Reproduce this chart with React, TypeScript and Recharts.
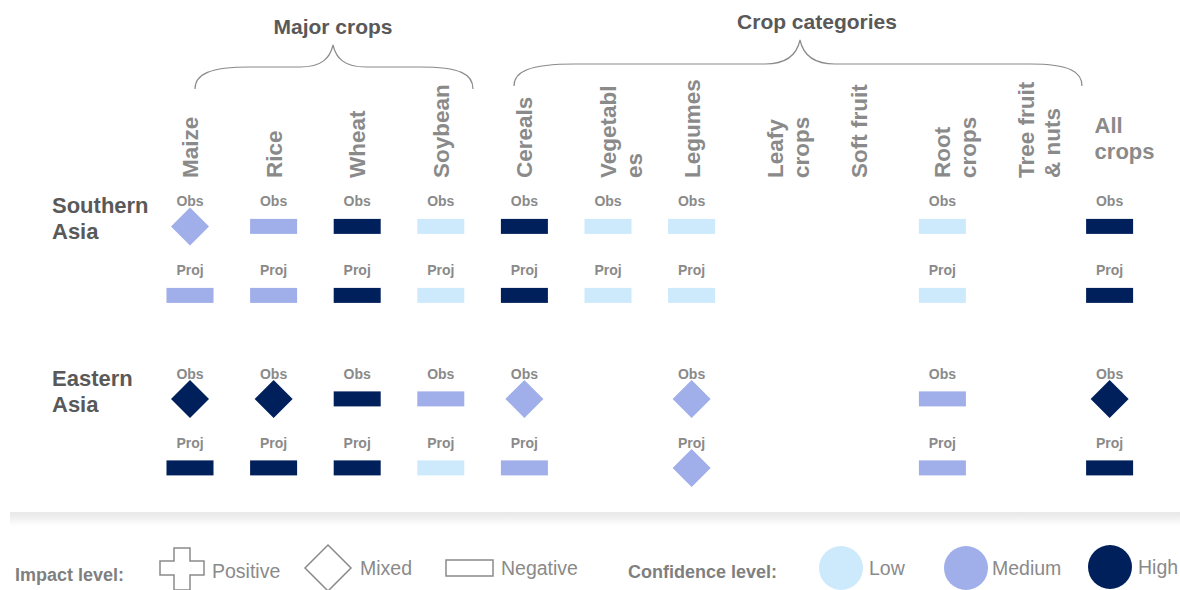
import React from 'react';
import { ScatterChart, Scatter, XAxis, YAxis } from 'recharts';

// columns (crop / crop category), header text split into lines
const crops = ['Maize', 'Rice', 'Wheat', 'Soybean', 'Cereals', 'Vegetables', 'Legumes', 'Leafy crops', 'Soft fruit', 'Root crops', 'Tree fruit & nuts', 'All crops'];
const cropHeaders = [['Maize'], ['Rice'], ['Wheat'], ['Soybean'], ['Cereals'], ['Vegetabl', 'es'], ['Legumes'], ['Leafy', 'crops'], ['Soft fruit'], ['Root', 'crops'], ['Tree  fruit', '& nuts'], ['All', 'crops']];

const regions = ['Southern Asia', 'Eastern Asia'];
const periods = ['Obs', 'Proj'];

// impact: N = negative, M = mixed, P = positive, '' = no assessment
// confidence: L = low, M = medium, H = high
const southObsImpact = ['M', 'N', 'N', 'N', 'N', 'N', 'N', '', '', 'N', '', 'N'];
const southObsConf = ['M', 'M', 'H', 'L', 'H', 'L', 'L', '', '', 'L', '', 'H'];
const southProjImpact = ['N', 'N', 'N', 'N', 'N', 'N', 'N', '', '', 'N', '', 'N'];
const southProjConf = ['M', 'M', 'H', 'L', 'H', 'L', 'L', '', '', 'L', '', 'H'];
const eastObsImpact = ['M', 'M', 'N', 'N', 'M', '', 'M', '', '', 'N', '', 'M'];
const eastObsConf = ['H', 'H', 'H', 'M', 'M', '', 'M', '', '', 'M', '', 'H'];
const eastProjImpact = ['N', 'N', 'N', 'N', 'N', '', 'M', '', '', 'N', '', 'N'];
const eastProjConf = ['H', 'H', 'H', 'L', 'M', '', 'M', '', '', 'M', '', 'H'];

const impactRows = [[southObsImpact, southProjImpact], [eastObsImpact, eastProjImpact]];
const confRows = [[southObsConf, southProjConf], [eastObsConf, eastProjConf]];

const confColors: Record<string, string> = { L: '#cdeafd', M: '#a0aeea', H: '#00205b' };

const FONT = '"Liberation Sans", Arial, sans-serif';
const GREY = '#8a8a8a';
const DARK = '#595959';

type Cell = { col: number; row: number; period: string; impact: string; conf: string };

const cells: Cell[] = [];
regions.forEach((_, r) => {
  periods.forEach((p, pi) => {
    crops.forEach((_, c) => {
      const impact = impactRows[r][pi][c];
      if (!impact) return;
      cells.push({ col: c, row: r * 2.5 + pi, period: p, impact, conf: confRows[r][pi][c] });
    });
  });
});

const Mark = (props: any) => {
  const { cx, cy, payload } = props;
  const fill = confColors[payload.conf];
  let shape;
  if (payload.impact === 'M') {
    const h = 19;
    shape = <polygon points={`${cx},${cy - h} ${cx + h},${cy} ${cx},${cy + h} ${cx - h},${cy}`} fill={fill} />;
  } else {
    shape = <rect x={cx - 23.5} y={cy - 7.5} width={47} height={15} fill={fill} />;
  }
  return (
    <g>
      <text x={cx} y={cy - 20} textAnchor="middle" fontFamily={FONT} fontSize={14} fontWeight="bold" fill={GREY}>
        {payload.period}
      </text>
      {shape}
    </g>
  );
};

const HeaderTick = (props: any) => {
  const { x, y, payload } = props;
  const lines = cropHeaders[payload.value] || [];
  if (payload.value === crops.length - 1) {
    return (
      <g>
        {lines.map((l, i) => (
          <text key={i} x={x - 15} y={y - 52 + i * 26} fontFamily={FONT} fontSize={22} fontWeight="bold" fill={GREY}>
            {l}
          </text>
        ))}
      </g>
    );
  }
  return (
    <g>
      {lines.map((l, i) => {
        const tx = x + i * 26;
        const ty = y - 7;
        return (
          <text key={i} x={tx} y={ty} dy="0.36em" transform={`rotate(-90, ${tx}, ${ty})`} fontFamily={FONT} fontSize={22.5} fontWeight="bold" fill={GREY}>
            {l}
          </text>
        );
      })}
    </g>
  );
};

const RegionTick = (props: any) => {
  const { y, payload } = props;
  const words = regions[Math.round(payload.value / 2.5)].split(' ');
  return (
    <g>
      {words.map((w, i) => (
        <text key={i} x={52} y={y - 13 + i * 26} fontFamily={FONT} fontSize={22} fontWeight="bold" fill={DARK}>
          {w}
        </text>
      ))}
    </g>
  );
};

const Overlay = () => (
  <svg width={1180} height={590} style={{ position: 'absolute', left: 0, top: 0, pointerEvents: 'none' }}>
    <defs>
      <linearGradient id="shadow" x1="0" y1="0" x2="0" y2="1">
        <stop offset="0" stopColor="#e9e9e9" />
        <stop offset="1" stopColor="#ffffff" />
      </linearGradient>
    </defs>
    <text x={333} y={34} textAnchor="middle" fontFamily={FONT} fontSize={21} fontWeight="bold" fill={DARK}>Major crops</text>
    <text x={817} y={29} textAnchor="middle" fontFamily={FONT} fontSize={21} fontWeight="bold" fill={DARK}>Crop categories</text>
    <path d="M195,89 C195,74 210,67 250,67 L300,67 C322,67 330,58 333,45 C336,58 344,67 366,67 L420,67 C460,67 473,74 473,89" fill="none" stroke="#8a8a8a" strokeWidth={1.2} />
    <path d="M514,86 C514,72 528,64 575,64 L765,64 C788,64 797,54 800,40 C803,54 812,64 835,64 L1030,64 C1070,64 1082,72 1082,86" fill="none" stroke="#8a8a8a" strokeWidth={1.2} />
    <line x1={10} y1={513} x2={1180} y2={513} stroke="#d6d6d6" strokeWidth={1.2} />
    <rect x={10} y={514} width={1170} height={12} fill="url(#shadow)" />
    <text x={15} y={581} fontFamily={FONT} fontSize={18} fontWeight="bold" fill="#7f7f7f">Impact level:</text>
    <path d="M174,548 L190,548 L190,561 L204,561 L204,575 L190,575 L190,590 L174,590 L174,575 L160,575 L160,561 L174,561 Z" fill="none" stroke="#8a8a8a" strokeWidth={1.5} />
    <text x={212} y={578} fontFamily={FONT} fontSize={19.5} fill="#8a8a8a">Positive</text>
    <polygon points="328,545 351,568 328,591 305,568" fill="none" stroke="#8a8a8a" strokeWidth={1.5} />
    <text x={360} y={575} fontFamily={FONT} fontSize={19.5} fill="#8a8a8a">Mixed</text>
    <rect x={446} y={560} width={47} height={16} fill="none" stroke="#8a8a8a" strokeWidth={1.5} />
    <text x={501} y={575} fontFamily={FONT} fontSize={19.5} fill="#8a8a8a">Negative</text>
    <text x={628} y={578} fontFamily={FONT} fontSize={18} fontWeight="bold" fill="#7f7f7f">Confidence level:</text>
    <ellipse cx={841} cy={568} rx={22} ry={22} fill={confColors.L} />
    <text x={869} y={575} fontFamily={FONT} fontSize={19.5} fill="#8a8a8a">Low</text>
    <ellipse cx={966} cy={568} rx={22} ry={22} fill={confColors.M} />
    <text x={992} y={575} fontFamily={FONT} fontSize={19.5} fill="#8a8a8a">Medium</text>
    <ellipse cx={1110} cy={567} rx={22} ry={22} fill={confColors.H} />
    <text x={1138} y={574} fontFamily={FONT} fontSize={19.5} fill="#8a8a8a">High</text>
  </svg>
);

export default function App() {
  return (
    <div style={{ position: 'relative', width: 1180, height: 590, background: '#fff' }}>
      <style>{`body{margin:0}`}</style>
      <ScatterChart width={1180} height={590} margin={{ top: 0, right: 28.6, bottom: 94.5, left: 0 }}>
        <XAxis
          type="number"
          dataKey="col"
          orientation="top"
          domain={[-0.5, 11.5]}
          ticks={crops.map((_, i) => i)}
          interval={0}
          height={185}
          tickLine={false}
          axisLine={false}
          tickSize={0}
          tickMargin={0}
          tick={<HeaderTick />}
        />
        <YAxis
          type="number"
          dataKey="row"
          reversed
          domain={[-0.6, 3.9]}
          ticks={[0, 2.5]}
          interval={0}
          width={148.2}
          tickLine={false}
          axisLine={false}
          tickSize={0}
          tickMargin={0}
          tick={<RegionTick />}
        />
        <Scatter data={cells} shape={<Mark />} isAnimationActive={false} />
      </ScatterChart>
      <Overlay />
    </div>
  );
}
